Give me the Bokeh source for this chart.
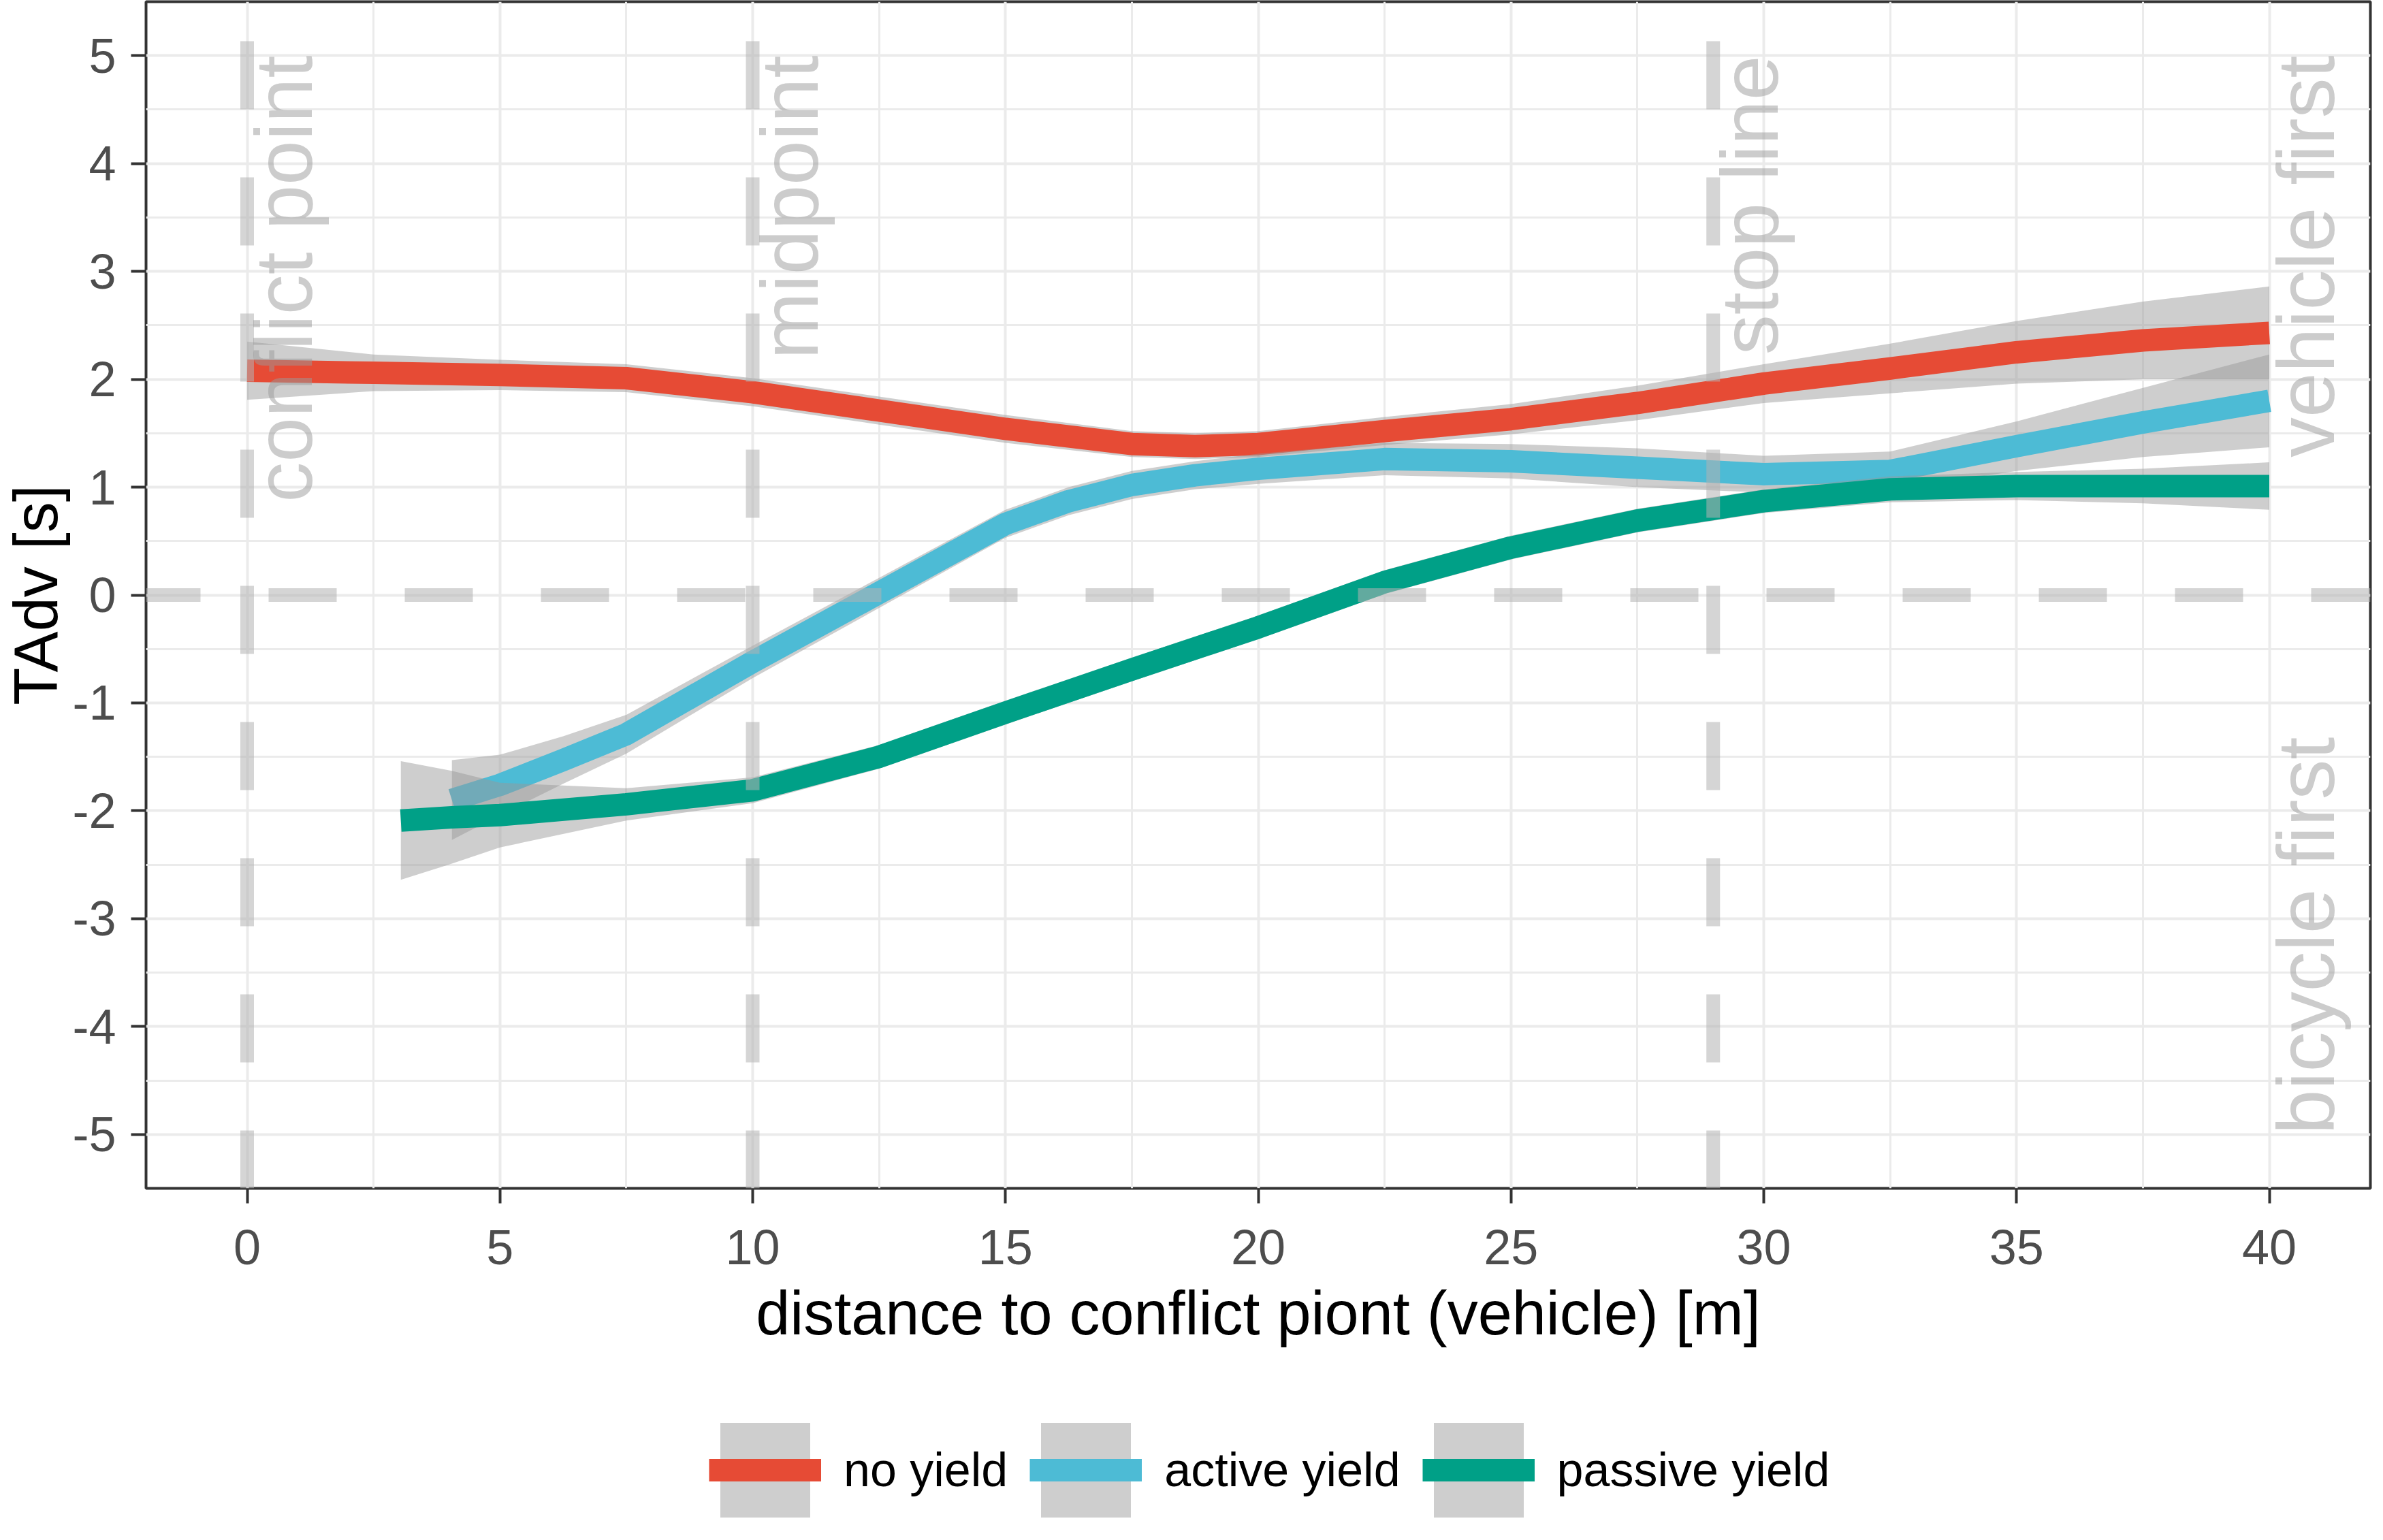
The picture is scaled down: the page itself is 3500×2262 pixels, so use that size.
from bokeh.plotting import figure
from bokeh.layouts import column
from bokeh.models import Range1d, FixedTicker, Span, Label, Legend, LegendItem
from bokeh.embed import file_html
from bokeh.resources import INLINE

# ---------------- data ----------------
series_names = ["no yield", "active yield", "passive yield"]
series_colors = ["#E64B35", "#4DBBD5", "#00A087"]

no_yield_x = [0, 2.5, 5, 7.5, 10, 12.5, 15, 17.5, 18.75, 20, 22.5, 25, 27.5, 30, 32.5, 35, 37.5, 40]
no_yield_y = [2.08, 2.06, 2.04, 2.01, 1.88, 1.71, 1.54, 1.40, 1.38, 1.40, 1.52, 1.63, 1.78, 1.96, 2.10, 2.25, 2.36, 2.43]
no_yield_se = [0.27, 0.17, 0.14, 0.13, 0.13, 0.13, 0.13, 0.12, 0.12, 0.12, 0.13, 0.14, 0.16, 0.18, 0.23, 0.29, 0.36, 0.43]

active_x = [4.05, 5, 6.25, 7.5, 10, 12.5, 15, 16.25, 17.5, 18.75, 20, 22.5, 25, 27.5, 30, 32.5, 35, 37.5, 40]
active_y = [-1.90, -1.76, -1.53, -1.29, -0.62, 0.02, 0.66, 0.87, 1.02, 1.11, 1.17, 1.26, 1.24, 1.18, 1.12, 1.15, 1.38, 1.60, 1.80]
active_se = [0.37, 0.28, 0.22, 0.18, 0.15, 0.14, 0.13, 0.13, 0.13, 0.13, 0.14, 0.15, 0.16, 0.18, 0.17, 0.18, 0.23, 0.32, 0.43]

passive_x = [3.04, 4.05, 5, 7.5, 10, 12.5, 15, 17.5, 20, 22.5, 25, 27.5, 30, 32.5, 35, 37.5, 40]
passive_y = [-2.09, -2.06, -2.04, -1.94, -1.81, -1.50, -1.09, -0.69, -0.30, 0.12, 0.44, 0.69, 0.87, 0.98, 1.01, 1.01, 1.01]
passive_se = [0.55, 0.43, 0.30, 0.15, 0.12, 0.11, 0.11, 0.11, 0.11, 0.11, 0.11, 0.11, 0.11, 0.12, 0.13, 0.16, 0.22]

x_ticks = [0, 5, 10, 15, 20, 25, 30, 35, 40]
x_minor = [2.5, 7.5, 12.5, 17.5, 22.5, 27.5, 32.5, 37.5]
y_ticks = [-5, -4, -3, -2, -1, 0, 1, 2, 3, 4, 5]
y_minor = [-4.5, -3.5, -2.5, -1.5, -0.5, 0.5, 1.5, 2.5, 3.5, 4.5]
y_tick_labels = ["-5", "-4", "-3", "-2", "-1", "0", "1", "2", "3", "4", "5"]

vline_x = [0, 10, 29]
hline_y = [0]

note_texts = ["conflict point", "midpoint", "stop line", "vehicle first", "bicycle first"]
note_x = [0, 10, 29, 40, 40]
note_y = [5, 5, 5, 5, -5]
note_align = ["right", "right", "right", "right", "left"]

x_title = "distance to conflict piont (vehicle) [m]"
y_title = "TAdv [s]"

FONT = "Liberation Sans"
BAND_COLOR = "#999999"
BAND_ALPHA = 0.48

# ---------------- main figure ----------------
p = figure(width=3484, height=2040,
           x_range=Range1d(-2, 42), y_range=Range1d(-5.5, 5.5),
           output_backend="svg", toolbar_location=None,
           min_border_left=211, min_border_right=3, min_border_top=2, min_border_bottom=295)
p.background_fill_color = "white"
p.border_fill_color = "white"
p.outline_line_color = "#333333"
p.outline_line_width = 4

# grid
p.xaxis.ticker = FixedTicker(ticks=x_ticks, minor_ticks=x_minor)
p.yaxis.ticker = FixedTicker(ticks=y_ticks, minor_ticks=y_minor)
p.yaxis.major_label_overrides = {v: s for v, s in zip(y_ticks, y_tick_labels)}
for g in (p.xgrid, p.ygrid):
    g.grid_line_color = "#ebebeb"
    g.grid_line_width = 4
    g.minor_grid_line_color = "#ebebeb"
    g.minor_grid_line_width = 3
p.xgrid.ticker = FixedTicker(ticks=x_ticks, minor_ticks=x_minor)
p.ygrid.ticker = FixedTicker(ticks=y_ticks, minor_ticks=y_minor)

# axes
for ax in (p.xaxis, p.yaxis):
    ax.axis_line_color = None
    ax.major_tick_in = 0
    ax.major_tick_out = 22
    ax.major_tick_line_width = 4
    ax.major_tick_line_color = "#333333"
    ax.minor_tick_line_color = None
    ax.major_label_text_font = FONT
    ax.major_label_text_font_size = "72px"
    ax.major_label_text_color = "#4d4d4d"
    ax.axis_label_text_font = FONT
    ax.axis_label_text_font_size = "90px"
    ax.axis_label_text_font_style = "normal"
    ax.axis_label_text_color = "black"
p.xaxis.axis_label = x_title
p.yaxis.axis_label = y_title
p.xaxis.major_label_standoff = 39
p.xaxis.axis_label_standoff = 19
p.yaxis.major_label_standoff = 22
p.yaxis.axis_label_standoff = 0

# smooth lines with confidence bands
xs = [no_yield_x, active_x, passive_x]
ys = [no_yield_y, active_y, passive_y]
ses = [no_yield_se, active_se, passive_se]
bands = []
for x, y, se in zip(xs, ys, ses):
    lo = [a - b for a, b in zip(y, se)]
    hi = [a + b for a, b in zip(y, se)]
    bands.append((lo, hi))
for col, x, y, (lo, hi) in zip(series_colors, xs, ys, bands):
    p.varea(x=x, y1=lo, y2=hi, fill_color=BAND_COLOR, fill_alpha=BAND_ALPHA)
    p.line(x=x, y=y, line_color=col, line_width=33, line_join="round")

# reference dashed lines
for xv in vline_x:
    p.add_layout(Span(location=xv, dimension="height", line_color="#b3b3b3", line_alpha=0.55,
                      line_width=20, line_dash="100 100", line_dash_offset=142))
for yv in hline_y:
    p.add_layout(Span(location=yv, dimension="width", line_color="#b3b3b3", line_alpha=0.55,
                      line_width=20, line_dash="100 100", line_dash_offset=20))

# rotated annotations
for t, xv, yv, al in zip(note_texts, note_x, note_y, note_align):
    p.add_layout(Label(x=xv, y=yv, text=t, angle=1.5707963, text_align=al, text_baseline="top",
                       text_font=FONT, text_font_size="118px", text_color="#999999",
                       text_alpha=0.5, x_offset=-12))

# ---------------- legend strip (same series, drawn outside its visible range) ----------------
lp = figure(width=3484, height=206, x_range=Range1d(1000, 1001), y_range=Range1d(1000, 1001),
            output_backend="svg", toolbar_location=None,
            x_axis_location=None, y_axis_location=None,
            min_border_left=0, min_border_right=0, min_border_top=0, min_border_bottom=0)
lp.outline_line_color = None
lp.xgrid.visible = False
lp.ygrid.visible = False
lp.background_fill_color = "white"
lp.border_fill_color = "white"

items = []
for name, col, x, y, (lo, hi) in zip(series_names, series_colors, xs, ys, bands):
    kb = lp.varea(x=x, y1=lo, y2=hi, fill_color=BAND_COLOR, fill_alpha=BAND_ALPHA)
    kl = lp.line(x=x, y=y, line_color=col, line_width=33)
    items.append(LegendItem(label=name, renderers=[kb, kl]))

legend = Legend(items=items, orientation="horizontal", nrows=1, location=(827, 0),
                glyph_width=165, glyph_height=174, label_standoff=33, spacing=32,
                padding=0, margin=0, border_line_color=None, background_fill_alpha=0,
                label_text_font=FONT, label_text_font_size="70px", label_text_color="black")
lp.add_layout(legend, "center")

open("out.html", "w").write(file_html(column(p, lp, spacing=0), INLINE))
